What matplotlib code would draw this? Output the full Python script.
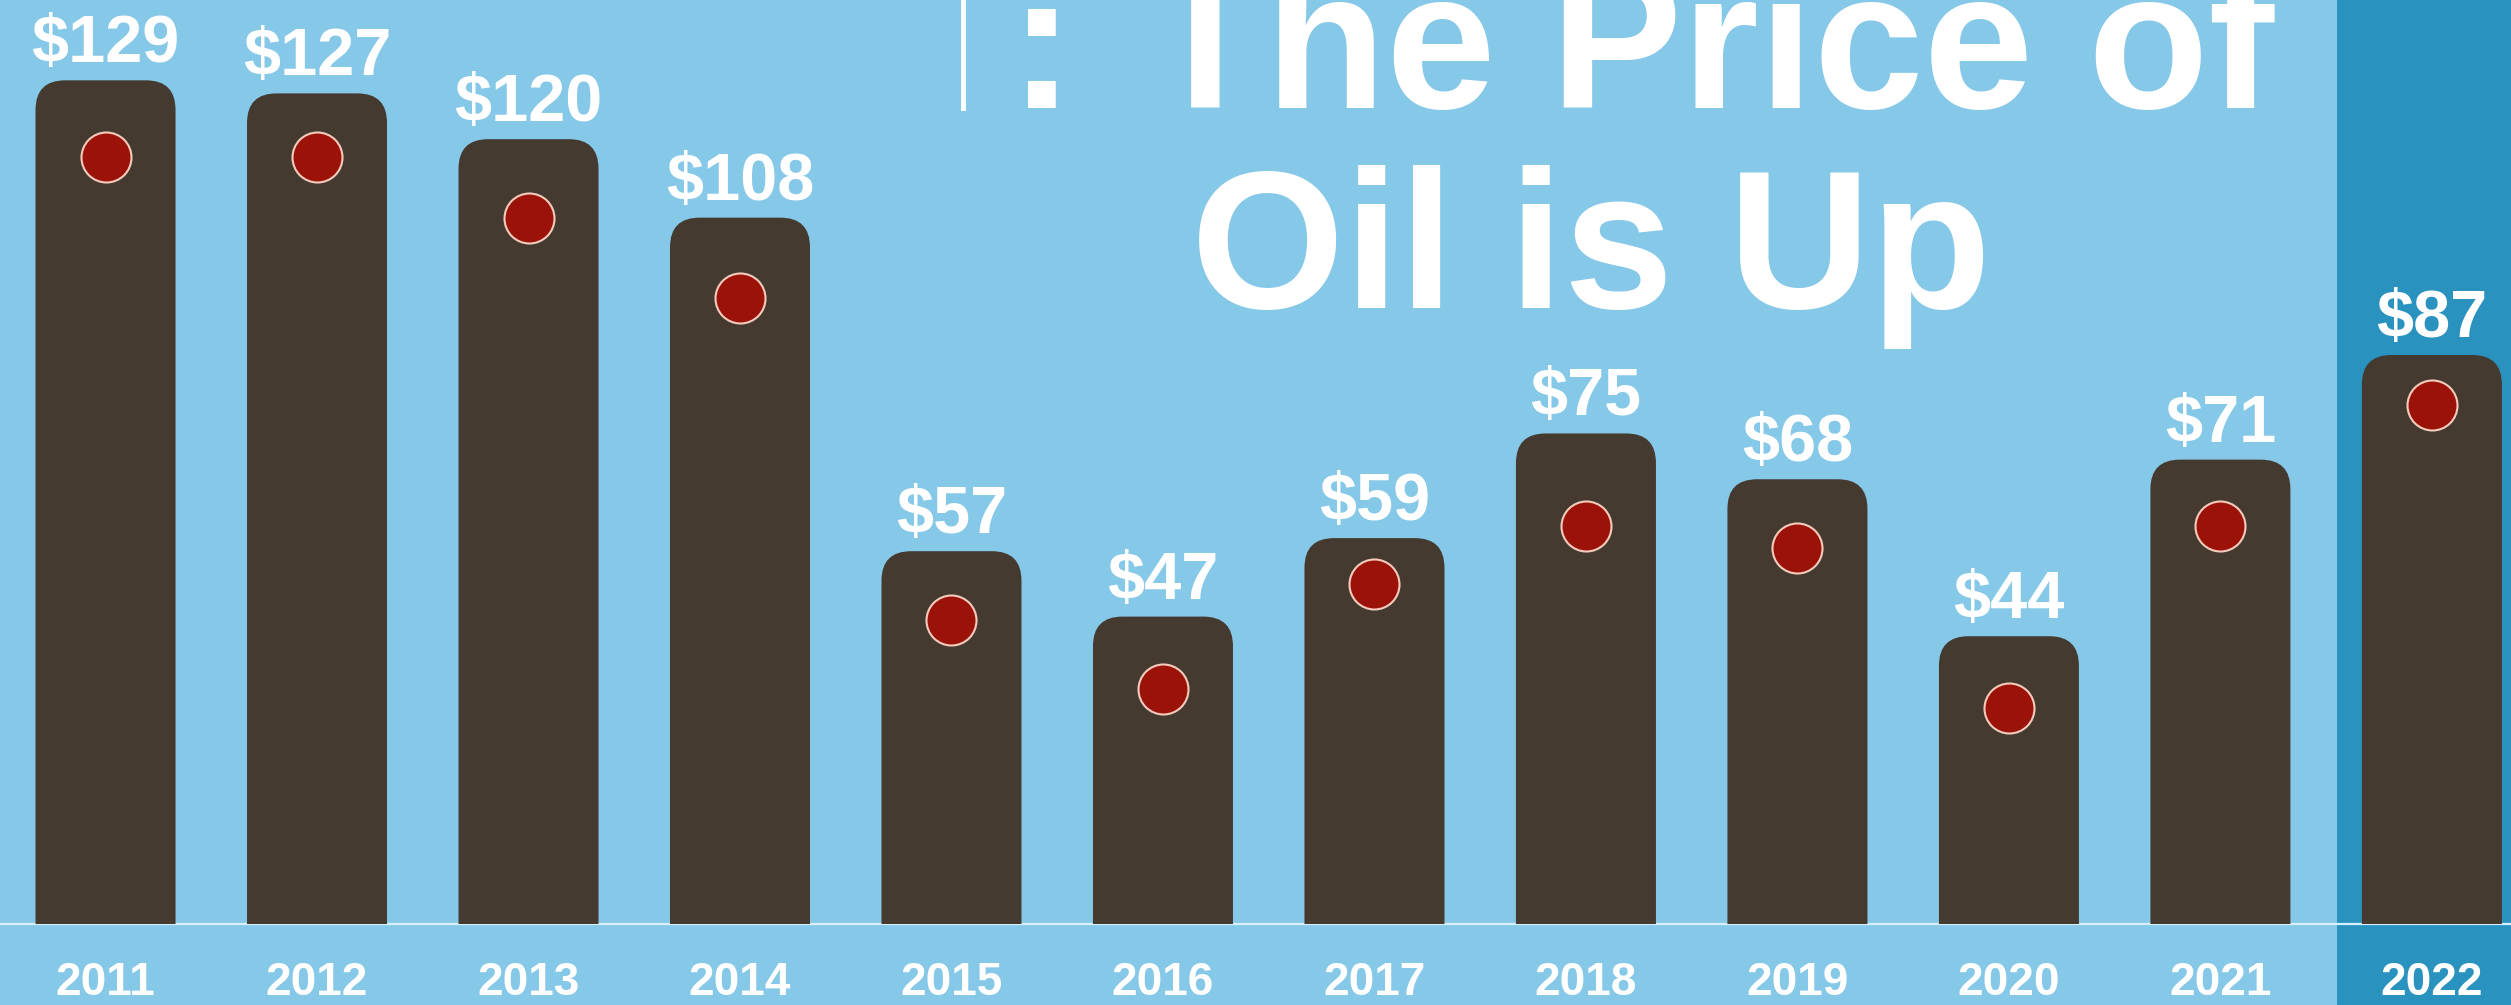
import matplotlib
matplotlib.use('Agg')
import matplotlib.pyplot as plt
from matplotlib.patches import FancyBboxPatch, Rectangle
from matplotlib.lines import Line2D
import numpy as np

# data
years = ['2011', '2012', '2013', '2014', '2015', '2016',
         '2017', '2018', '2019', '2020', '2021', '2022']
prices = [129, 127, 120, 108, 57, 47, 59, 75, 68, 44, 71, 87]
dots = [117.3, 117.3, 108.0, 95.7, 46.5, 35.9, 52.0, 60.9, 57.5, 33.0, 60.9, 79.4]

BG = '#86C8E8'
HILITE = '#2992BF'
BAR = '#453A30'
DOT = '#9B1208'
DOT_EDGE = '#F4CBBC'
BASE = '#D6EFFA'

plt.rcParams['font.family'] = ['Liberation Sans', 'DejaVu Sans']

W, H = 2511, 1005
fig = plt.figure(figsize=(W / 100, H / 100), dpi=100)
fig.set_facecolor(BG)
ax = fig.add_axes([0, 0, 1, 1])
ax.set_facecolor(BG)

x = np.arange(len(years))
x0, x1 = -0.499, 11.374
y0, y1 = -12.39, 141.28
ax.set_xlim(x0, x1)
ax.set_ylim(y0, y1)
ax.axis('off')

# highlighted last year + baseline
ax.axvspan(10.55, x1 + 1, color=HILITE, zorder=0, lw=0)
ax.axhline(0, color=BASE, lw=1.6, zorder=1)

# bars with rounded tops (rounded patch clipped at the baseline)
aspect = ((y1 - y0) / H) / ((x1 - x0) / W)
clip = Rectangle((x0 - 1, 0), x1 - x0 + 2, 300, transform=ax.transData)
bars = ax.bar(x, prices, width=0.662, color=BAR, zorder=2)
for b in bars:
    b.set_visible(False)
    rb = FancyBboxPatch((b.get_x(), -10), b.get_width(), b.get_height() + 10,
                        boxstyle='round,pad=0,rounding_size=0.14',
                        mutation_aspect=aspect, fc=BAR, ec='none', zorder=2)
    ax.add_patch(rb)
    rb.set_clip_path(clip)

ax.scatter(x, dots, s=1296, c=DOT, edgecolors=DOT_EDGE, linewidths=1.5, zorder=3)

for i, v in enumerate(prices):
    ax.annotate(f'${v}', (i, v), xytext=(0, 13), textcoords='offset points',
                ha='center', va='baseline', fontsize=48, fontweight='bold', color='white')
    ax.text(i, -10.86, years[i], ha='center', va='baseline',
            fontsize=33, fontweight='bold', color='white')

# big title, partly cut off at the top
fig.text(1145 / W, 1 - 108 / H, 'The Price of', fontsize=142, fontweight='bold',
         color='white', ha='left', va='baseline')
fig.text(1191 / W, 1 - 308 / H, 'Oil is Up', fontsize=142, fontweight='bold',
         color='white', ha='left', va='baseline')
fig.text(1009 / W, 1 - 108 / H, ':', fontsize=142, fontweight='bold',
         color='white', ha='left', va='baseline')
fig.add_artist(Line2D([963 / W, 963 / W], [1, 1 - 108 / H], color='white', lw=3.5,
                      transform=fig.transFigure))

fig.savefig('out.png', dpi=100, facecolor=BG)
